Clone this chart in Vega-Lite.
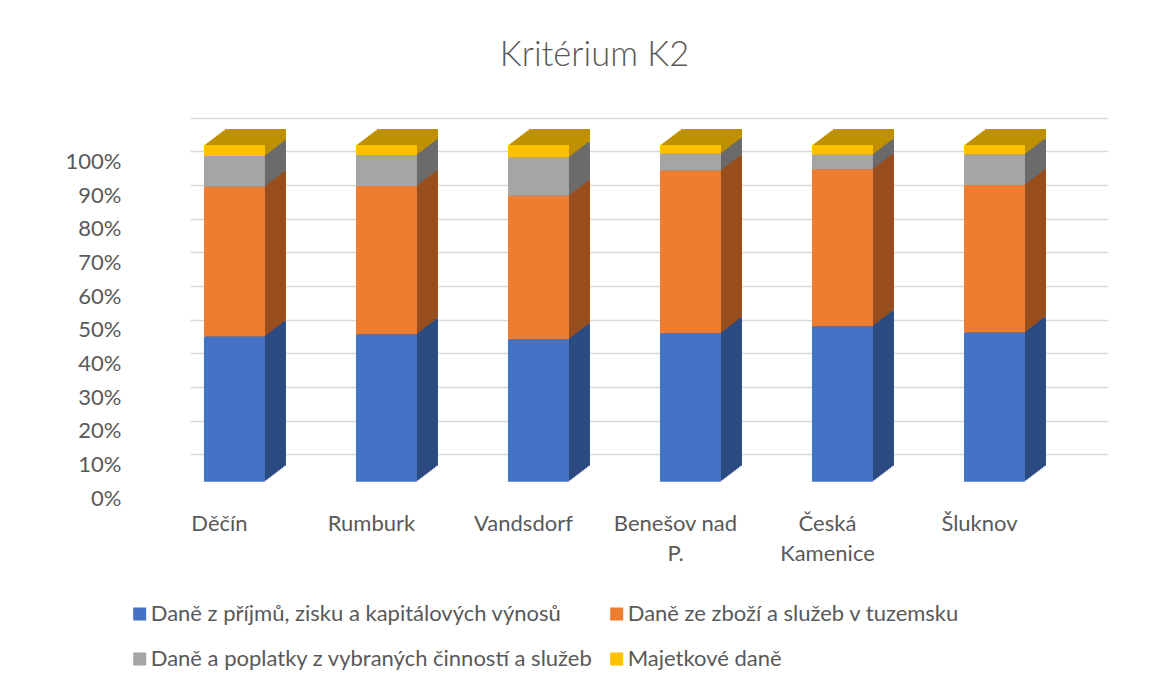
{
  "$schema": "https://vega.github.io/schema/vega-lite/v6.json",
  "width": 918,
  "height": 336.7,
  "autosize": {"type": "none"},
  "padding": {"left": 190, "top": 145, "right": 63, "bottom": 202.3},
  "background": "white",
  "config": {"view": {"stroke": null}, "font": "Lato"},
  "title": {"text": "Kritérium K2", "fontSize": 34.5, "font": "Lato", "fontWeight": 300, "color": "#595959", "anchor": "middle", "dx": -54.5, "baseline": "alphabetic", "offset": 29},
  "data": {"values": [
    {"obec": "Děčín", "dan": "Daně z příjmů, zisku a kapitálových výnosů", "podil": 43.1},
    {"obec": "Děčín", "dan": "Daně ze zboží a služeb v tuzemsku", "podil": 44.5},
    {"obec": "Děčín", "dan": "Daně a poplatky z vybraných činností a služeb", "podil": 9.1},
    {"obec": "Děčín", "dan": "Majetkové daně", "podil": 3.3},
    {"obec": "Rumburk", "dan": "Daně z příjmů, zisku a kapitálových výnosů", "podil": 43.8},
    {"obec": "Rumburk", "dan": "Daně ze zboží a služeb v tuzemsku", "podil": 44.0},
    {"obec": "Rumburk", "dan": "Daně a poplatky z vybraných činností a služeb", "podil": 9.2},
    {"obec": "Rumburk", "dan": "Majetkové daně", "podil": 3.0},
    {"obec": "Vandsdorf", "dan": "Daně z příjmů, zisku a kapitálových výnosů", "podil": 42.3},
    {"obec": "Vandsdorf", "dan": "Daně ze zboží a služeb v tuzemsku", "podil": 42.6},
    {"obec": "Vandsdorf", "dan": "Daně a poplatky z vybraných činností a služeb", "podil": 11.4},
    {"obec": "Vandsdorf", "dan": "Majetkové daně", "podil": 3.7},
    {"obec": "Benešov nad P.", "dan": "Daně z příjmů, zisku a kapitálových výnosů", "podil": 44.1},
    {"obec": "Benešov nad P.", "dan": "Daně ze zboží a služeb v tuzemsku", "podil": 48.3},
    {"obec": "Benešov nad P.", "dan": "Daně a poplatky z vybraných činností a služeb", "podil": 5.0},
    {"obec": "Benešov nad P.", "dan": "Majetkové daně", "podil": 2.6},
    {"obec": "Česká Kamenice", "dan": "Daně z příjmů, zisku a kapitálových výnosů", "podil": 46.2},
    {"obec": "Česká Kamenice", "dan": "Daně ze zboží a služeb v tuzemsku", "podil": 46.6},
    {"obec": "Česká Kamenice", "dan": "Daně a poplatky z vybraných činností a služeb", "podil": 4.3},
    {"obec": "Česká Kamenice", "dan": "Majetkové daně", "podil": 2.9},
    {"obec": "Šluknov", "dan": "Daně z příjmů, zisku a kapitálových výnosů", "podil": 44.3},
    {"obec": "Šluknov", "dan": "Daně ze zboží a služeb v tuzemsku", "podil": 43.8},
    {"obec": "Šluknov", "dan": "Daně a poplatky z vybraných činností a služeb", "podil": 9.1},
    {"obec": "Šluknov", "dan": "Majetkové daně", "podil": 2.8}
  ]},
  "transform": [
    {"calculate": "indexof(['Daně z příjmů, zisku a kapitálových výnosů', 'Daně ze zboží a služeb v tuzemsku', 'Daně a poplatky z vybraných činností a služeb', 'Majetkové daně'], datum.dan)", "as": "poradi"}
  ],
  "encoding": {
    "x": {
      "field": "obec", "type": "nominal",
      "sort": ["Děčín", "Rumburk", "Vandsdorf", "Benešov nad P.", "Česká Kamenice", "Šluknov"],
      "scale": {"paddingInner": 0.5987, "paddingOuter": 0.319, "align": 0.144},
      "axis": {
        "title": null, "domain": false, "ticks": false, "tickSize": 0, "grid": false,
        "labelPadding": 32, "labelOffset": -15, "labelAngle": 0, "labelFontSize": 22,
        "labelFont": "Lato", "labelColor": "#595959", "labelLineHeight": 30, "labelLimit": 0,
        "labelBaseline": "top", "labelAlign": "center",
        "labelExpr": "datum.value == 'Benešov nad P.' ? ['Benešov nad', 'P.'] : datum.value == 'Česká Kamenice' ? ['Česká', 'Kamenice'] : datum.value"
      }
    },
    "y": {
      "field": "podil", "type": "quantitative", "stack": "normalize",
      "scale": {"domain": [0, 1]},
      "axis": {
        "title": null, "format": ".0%", "values": [0, 0.1, 0.2, 0.3, 0.4, 0.5, 0.6, 0.7, 0.8, 0.9, 1],
        "domain": false, "ticks": false, "tickSize": 0, "labelPadding": 69,
        "tickOffset": -27.4, "labelOffset": 44, "grid": true, "gridColor": "#D9D9D9", "gridWidth": 1.5,
        "labelFontSize": 22, "labelFont": "Lato", "labelColor": "#595959", "labelAlign": "right", "labelBaseline": "middle"
      }
    },
    "order": {"field": "poradi", "type": "quantitative", "sort": "ascending"},
    "color": {
      "field": "dan", "type": "nominal",
      "scale": {"domain": ["Daně z příjmů, zisku a kapitálových výnosů", "Daně ze zboží a služeb v tuzemsku", "Daně a poplatky z vybraných činností a služeb", "Majetkové daně"], "range": ["#2B4B82", "#984E1D", "#6B6B6B", "#BF9000"]},
      "legend": null
    }
  },
  "resolve": {"scale": {"color": "independent"}, "legend": {"color": "independent"}},
  "layer": [
    {"mark": {"type": "bar", "xOffset": 21, "yOffset": -16}},
    {"mark": {"type": "bar", "xOffset": 19.5, "yOffset": -14.86}},
    {"mark": {"type": "bar", "xOffset": 18, "yOffset": -13.71}},
    {"mark": {"type": "bar", "xOffset": 16.5, "yOffset": -12.57}},
    {"mark": {"type": "bar", "xOffset": 15, "yOffset": -11.43}},
    {"mark": {"type": "bar", "xOffset": 13.5, "yOffset": -10.29}},
    {"mark": {"type": "bar", "xOffset": 12, "yOffset": -9.14}},
    {"mark": {"type": "bar", "xOffset": 10.5, "yOffset": -8}},
    {"mark": {"type": "bar", "xOffset": 9, "yOffset": -6.86}},
    {"mark": {"type": "bar", "xOffset": 7.5, "yOffset": -5.71}},
    {"mark": {"type": "bar", "xOffset": 6, "yOffset": -4.57}},
    {"mark": {"type": "bar", "xOffset": 4.5, "yOffset": -3.43}},
    {"mark": {"type": "bar", "xOffset": 3, "yOffset": -2.29}},
    {"mark": {"type": "bar", "xOffset": 1.5, "yOffset": -1.14}},
    {
      "mark": {"type": "bar"},
      "encoding": {
        "color": {
          "field": "dan", "type": "nominal",
          "scale": {"domain": ["Daně z příjmů, zisku a kapitálových výnosů", "Daně ze zboží a služeb v tuzemsku", "Daně a poplatky z vybraných činností a služeb", "Majetkové daně"], "range": ["#4472C4", "#ED7D31", "#A5A5A5", "#FFC000"]},
          "legend": {
            "orient": "none", "legendX": -61.3, "legendY": 458, "columns": 2, "direction": "horizontal", "title": null,
            "symbolType": "square", "symbolSize": 169, "symbolStrokeWidth": 0,
            "labelFontSize": 22, "labelFont": "Lato", "labelColor": "#595959", "labelLimit": 0,
            "labelOffset": 0, "rowPadding": 23, "columnPadding": 12, "padding": 0
          }
        }
      }
    }
  ]
}
